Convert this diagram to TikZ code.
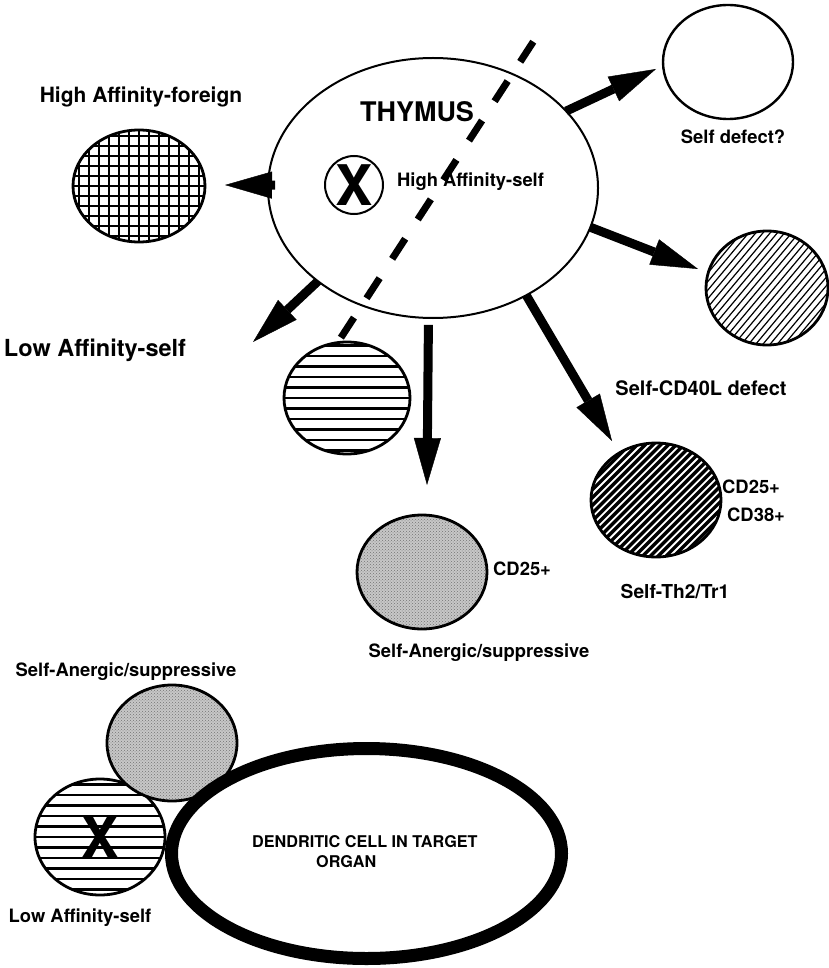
\documentclass[tikz,border=0pt]{standalone}
\usepackage{fontspec}
\setmainfont{TeX Gyre Heros}
\usetikzlibrary{arrows.meta,positioning,patterns,shapes.geometric}
\tikzset{
  cell/.style={ellipse, draw, line width=2.8pt, inner sep=0pt, outer sep=0pt,
    minimum width=130pt, minimum height=114pt},
  lbl/.style={font=\bfseries\fontsize{18.4}{21}\selectfont, inner sep=0pt},
  bigX/.style={font=\bfseries\fontsize{56}{56}\selectfont},
  bigarrow/.style={line width=9pt, -{Triangle[length=47pt,width=27pt,line width=0.4pt]}},
  grille/.style={path picture={
    \foreach \k in {-8,...,8} {
      \draw[line width=2.2pt] ([yshift=\k*10pt]path picture bounding box.center) ++(-90pt,0pt) -- ++(180pt,0pt);
      \draw[line width=2.2pt] ([xshift=\k*10pt]path picture bounding box.center) ++(0pt,-90pt) -- ++(0pt,180pt);
    }}},
  rayures/.style={path picture={
    \foreach \k in {-7,...,7}
      \draw[line width=2.5pt] ([yshift=\k*10.5pt]path picture bounding box.center) ++(-90pt,0pt) -- ++(180pt,0pt);
    }},
  fines/.style={path picture={
    \foreach \k in {-16,...,16}
      \draw[line width=1.2pt] ([shift={(140:\k*5.5pt)}]path picture bounding box.center)
        ++(50:-110pt) -- ++(50:220pt);
    }},
  noires/.style={fill=black, path picture={
    \foreach \k in {-16,...,16}
      \draw[white, line width=1.8pt] ([shift={(135:\k*5.5pt)}]path picture bounding box.center)
        ++(45:-110pt) -- ++(45:220pt);
    }},
  grise/.style={preaction={fill=black!22}, pattern=crosshatch dots, pattern color=black!55}
}
\begin{document}
\begin{tikzpicture}[x=1pt,y=-1pt]
  \useasboundingbox (0,0) rectangle (828,968);
  % thymus
  \node[ellipse, draw, line width=2pt, inner sep=0pt, outer sep=0pt,
    minimum width=330pt, minimum height=260pt] (thy) at (433,188) {};
  \coordinate (cutA) at (533.3,41.7);
  \coordinate (cutB) at (338.3,341.7);
  \draw[line width=7pt, dash pattern=on 24pt off 23pt] (cutA) -- (cutB);
  \node[lbl, font=\bfseries\fontsize{27}{29}\selectfont] (thyname) at (417,112) {THYMUS};
  \node[circle, draw, line width=2pt, minimum size=58pt, inner sep=0pt, bigX] (xthy) at (354,185) {X};
  \node[lbl, right] (hiself) at (397,182) {High Affinity-self};
  % fleches
  \coordinate (tipF) at (225,185);
  \coordinate (tipD) at (656,69);
  \coordinate (tipC) at (698,269);
  \coordinate (tipT) at (612,441);
  \coordinate (tipA) at (427,485);
  \coordinate (tipL) at (253,342);
  \draw[bigarrow] ([xshift=7pt]thy.179) -- (tipF);
  \draw[bigarrow] (thy.30) -- (tipD);
  \draw[bigarrow] (thy.-14) -- (tipC);
  \draw[bigarrow] (thy.-49) -- (tipT);
  \draw[bigarrow, shorten <=7pt] (thy.-92.5) -- (tipA);
  \draw[bigarrow] (thy.-141.6) -- (tipL);
  % cellules
  \node[cell, grille, minimum width=132pt, minimum height=112pt] (foreign) at (139,186) {};
  \node[lbl, font=\bfseries\fontsize{21}{24}\selectfont] (foreignlbl) at (141,97) {High Affinity-foreign};
  \node[cell, line width=2.4pt] (selfdef) at (728,62) {};
  \node[lbl] (selfdeflbl) at (733,137) {Self defect?};
  \node[cell, fines, minimum width=122pt] (cd40) at (767,288) {};
  \node[lbl, font=\bfseries\fontsize{20}{23}\selectfont] (cd40lbl) at (701,388) {Self-CD40L defect};
  \node[cell, rayures, minimum width=126pt, minimum height=112pt] (lowaff) at (347,398) {};
  \node[lbl, font=\bfseries\fontsize{23.5}{26}\selectfont] (lowafflbl) at (95,350) {Low Affinity-self};
  \node[cell, grise] (anerg) at (422,572) {};
  \node[lbl, right] (anergcd) at (493,569) {CD25+};
  \node[lbl] (anerglbl) at (479,653) {Self-Anergic/suppressive};
  \node[cell, noires] (th2) at (656,500) {};
  \node[lbl, right] (th2cda) at (722,487) {CD25+};
  \node[lbl, right] (th2cdb) at (727,515) {CD38+};
  \node[lbl, font=\bfseries\fontsize{19.2}{22}\selectfont] (th2lbl) at (675,592) {Self-Th2/Tr1};
  % organe cible
  \node[lbl] (anerglbltwo) at (126,672) {Self-Anergic/suppressive};
  \node[cell, rayures, minimum height=116pt, bigX] (lowafftwo) at (100,837) {X};
  \node[cell, grise, minimum height=116pt] (anergtwo) at (172,743) {};
  \node[ellipse, draw, fill=white, line width=13pt, inner sep=0pt,
    minimum width=390pt, minimum height=210pt] (dend) at (366.5,853.5) {};
  \node[lbl, right, align=left, font=\bfseries\fontsize{16.2}{20}\selectfont] (dendlbl) at (252,852)
    {DENDRITIC CELL IN TARGET\\\hspace*{64pt}ORGAN};
  \node[lbl] (lowafflbltwo) at (80,918) {Low Affinity-self};
\end{tikzpicture}
\end{document}
